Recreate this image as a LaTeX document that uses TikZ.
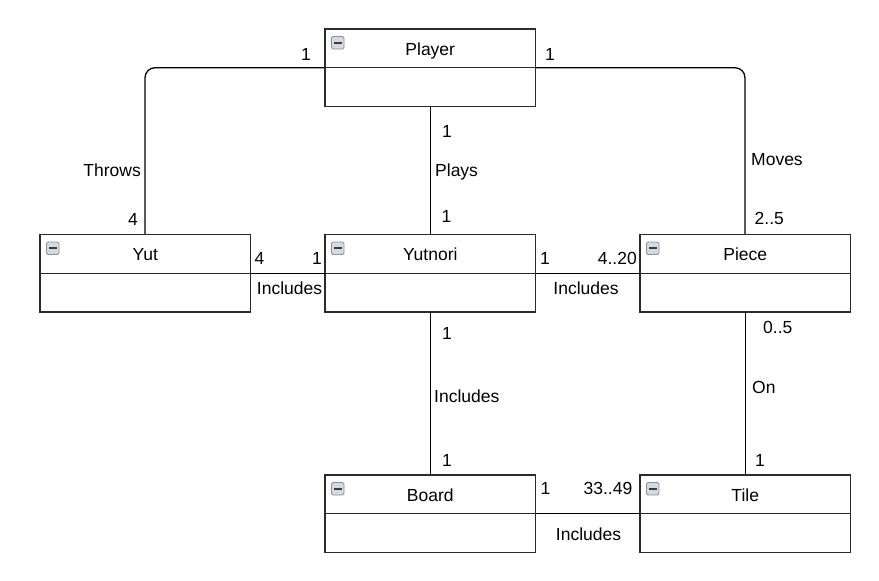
\documentclass[tikz,border=0pt]{standalone}
\usepackage{fontspec}
\setmainfont{Liberation Sans}
\definecolor{boxline}{HTML}{2B2B2B}
\definecolor{icfill}{HTML}{D5DAE0}
\definecolor{icline}{HTML}{8C939C}
\definecolor{icbar}{HTML}{3C3C3C}
\tikzset{
  clsbox/.style={draw=boxline, line width=1.4pt, fill=white, minimum width=210.5pt, minimum height=77.5pt, outer sep=0pt, inner sep=0pt},
  clsline/.style={draw=boxline, line width=1.4pt},
  conn/.style={draw=black, line width=1.3pt},
  lbl/.style={inner sep=0pt, text=black},
  iconbox/.style={draw=icline, fill=icfill, line width=0.8pt, rounded corners=1.5pt},
  iconbar/.style={draw=icbar, line width=2pt},
}
\newcommand\umlcls[4]{%
  \node[clsbox, anchor=north west] (#1) at (#2,#3) {};
  \draw[clsline] (#1.west) -- (#1.east);
  \node[lbl, anchor=base] (#1-title) at ([yshift=-26pt]#1.north) {#4};
  \draw[iconbox] ([shift={(6.5,7.5)}]#1.north west) rectangle ++(12.5,12.5);
  \draw[iconbar] ([shift={(9,13.75)}]#1.north west) -- ++(7.5,0);
}
\begin{document}
\begin{tikzpicture}[x=1pt,y=-1pt, every node/.style={font=\fontsize{17.5}{20}\selectfont}]
\useasboundingbox[fill=white] (0,0) rectangle (879,581);

% connectors (drawn first, boxes on top)
\coordinate (pw) at (325,67.75);
\coordinate (pe) at (535.5,67.75);
\coordinate (yn) at (145,234.5);
\coordinate (pn) at (745,234.5);
\draw[conn, rounded corners=10pt] (pw) -| (yn);
\draw[conn, rounded corners=10pt] (pe) -| (pn);

\umlcls{player}{325}{29}{Player}
\umlcls{yut}{40}{234.5}{Yut}
\umlcls{yutnori}{325}{234.5}{Yutnori}
\umlcls{piece}{640}{234.5}{Piece}
\umlcls{board}{325}{475}{Board}
\umlcls{tile}{640}{475}{Tile}

\draw[conn] (player.south) -- (yutnori.north);
\draw[conn] (yut.east) -- (yutnori.west);
\draw[conn] (yutnori.east) -- (piece.west);
\draw[conn] (yutnori.south) -- (board.north);
\draw[conn] (piece.south) -- (tile.north);
\draw[conn] (board.east) -- (tile.west);

% labels
\node[lbl, anchor=base] (m1) at (306,60) {1};
\node[lbl, anchor=base] (m2) at (550,60) {1};
\node[lbl, anchor=base east] (r1) at (141,176) {Throws};
\node[lbl, anchor=base] (m3) at (133,225) {4};
\node[lbl, anchor=base] (m4) at (447,137.5) {1};
\node[lbl, anchor=base west] (r2) at (435,176) {Plays};
\node[lbl, anchor=base] (m5) at (446.5,222.5) {1};
\node[lbl, anchor=base west] (r3) at (751,165) {Moves};
\node[lbl, anchor=base west] (m6) at (754.5,224) {2..5};

\node[lbl, anchor=base] (m7) at (259.5,264) {4};
\node[lbl, anchor=base] (m8) at (317,264) {1};
\node[lbl, anchor=base] (r4) at (289.5,294) {Includes};
\node[lbl, anchor=base] (m9) at (545,264) {1};
\node[lbl, anchor=base east] (m10) at (637,264) {4..20};
\node[lbl, anchor=base] (r5) at (586,294) {Includes};

\node[lbl, anchor=base] (m11) at (447,339) {1};
\node[lbl, anchor=base west] (r6) at (434,402) {Includes};
\node[lbl, anchor=base] (m12) at (447,466) {1};
\node[lbl, anchor=base west] (m13) at (763,333) {0..5};
\node[lbl, anchor=base west] (r7) at (752,393) {On};
\node[lbl, anchor=base] (m14) at (760,466) {1};

\node[lbl, anchor=base] (m15) at (545.5,494.5) {1};
\node[lbl, anchor=base east] (m16) at (632.5,494.5) {33..49};
\node[lbl, anchor=base] (r8) at (588.5,540) {Includes};
\end{tikzpicture}
\end{document}
